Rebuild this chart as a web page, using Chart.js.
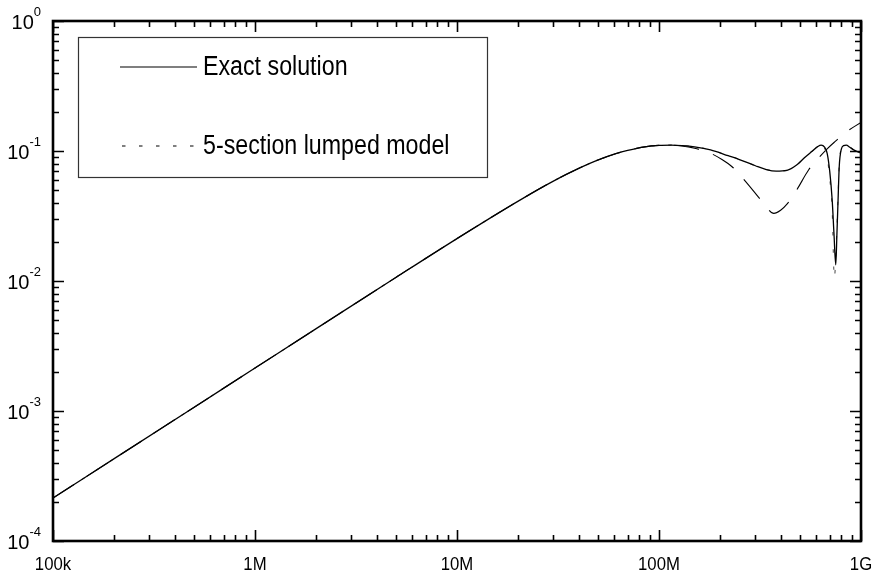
<!DOCTYPE html>
<html>
<head>
<meta charset="utf-8">
<script src="https://cdn.jsdelivr.net/npm/chart.js@4/dist/chart.umd.min.js"></script>
<style>
  html, body { margin: 0; padding: 0; background: #ffffff; }
  #wrap { width: 874px; height: 579px; }
</style>
</head>
<body>
<div id="wrap"><canvas id="c" width="874" height="579"></canvas></div>
<script>
// ---- data (frequency in Hz, magnitude) ----
const exactFreq = [1e5, 2e5, 5e5, 1e6, 2e6, 5e6, 1e7, 2e7, 3e7, 4e7, 5e7, 6e7, 7e7, 8.5e7, 1e8, 1.15e8, 1.3e8, 1.5e8, 1.8e8, 2.2e8, 2.5e8, 3e8, 3.4e8, 3.8e8, 4.3e8, 4.8e8, 5.3e8, 5.7e8, 6.1e8, 6.35e8, 6.6e8, 6.8e8, 7.0e8, 7.2e8, 7.35e8, 7.5e8, 7.6e8, 7.7e8, 7.8e8, 8.0e8, 8.2e8, 8.45e8, 8.8e8, 9.2e8, 1e9];
const exactVal  = [2.14e-4, 4.28e-4, 1.07e-3, 2.14e-3, 4.28e-3, 1.069e-2, 2.12e-2, 4.1e-2, 5.87e-2, 7.34e-2, 8.54e-2, 9.45e-2, 0.101, 0.1076, 0.1105, 0.111, 0.110, 0.1076, 0.102, 0.092, 0.086, 0.077, 0.072, 0.070, 0.071, 0.078, 0.090, 0.099, 0.108, 0.111, 0.107, 0.096, 0.070, 0.042, 0.023, 0.0133, 0.023, 0.042, 0.075, 0.104, 0.110, 0.111, 0.107, 0.102, 0.096];

const lumpedFreq = [1e5, 2e5, 5e5, 1e6, 2e6, 5e6, 1e7, 2e7, 3e7, 4e7, 5e7, 6e7, 7e7, 8.5e7, 1e8, 1.15e8, 1.3e8, 1.5e8, 1.8e8, 2.2e8, 2.5e8, 3e8, 3.4e8, 3.8e8, 4.3e8, 4.8e8, 5.3e8, 5.7e8, 6.1e8, 6.35e8, 6.6e8, 6.8e8, 7.0e8, 7.2e8, 7.38e8, 7.55e8, 7.7e8, 7.8e8, 8.0e8, 8.45e8, 8.8e8, 9.2e8, 1e9];
const lumpedVal  = [2.14e-4, 4.28e-4, 1.07e-3, 2.14e-3, 4.28e-3, 1.069e-2, 2.12e-2, 4.1e-2, 5.87e-2, 7.34e-2, 8.54e-2, 9.45e-2, 0.101, 0.1076, 0.1105, 0.111, 0.110, 0.1076, 0.102, 0.092, 0.086, 0.077, 0.072, 0.070, 0.071, 0.078, 0.090, 0.099, 0.108, 0.111, 0.105, 0.090, 0.062, 0.035, 0.0105, 0.020, 0.045, 0.078, 0.104, 0.110, 0.107, 0.102, 0.096];

const longDashFreq = [1e5, 2e5, 5e5, 1e6, 2e6, 5e6, 1e7, 2e7, 3e7, 4e7, 5e7, 6e7, 7e7, 8.5e7, 1e8, 1.15e8, 1.3e8, 1.5e8, 1.8e8, 2.05e8, 2.3e8, 2.6e8, 3.1e8, 3.4e8, 3.7e8, 4.0e8, 4.3e8, 4.8e8, 5.5e8, 6.15e8, 6.8e8, 7.43e8, 8.5e8, 1e9];
const longDashVal  = [2.14e-4, 4.28e-4, 1.07e-3, 2.14e-3, 4.28e-3, 1.069e-2, 2.12e-2, 4.1e-2, 5.87e-2, 7.34e-2, 8.54e-2, 9.45e-2, 0.101, 0.1076, 0.1105, 0.111, 0.1095, 0.105, 0.096, 0.086, 0.0757, 0.0617, 0.0444, 0.037, 0.0331, 0.035, 0.039, 0.050, 0.0714, 0.088, 0.104, 0.118, 0.141, 0.166];

const seriesNames = ['Exact solution', '5-section lumped model'];

const xTickVals = [1e5, 1e6, 1e7, 1e8, 1e9];
const xTickLabels = ['100k', '1M', '10M', '100M', '1G'];
const yTickVals = [1e-4, 1e-3, 1e-2, 1e-1, 1e0];
const yTickExps = ['-4', '-3', '-2', '-1', '0'];

function pts(fx, vy) { return fx.map((f, i) => ({ x: f, y: vy[i] })); }

const FONT = '"Liberation Sans", Arial, sans-serif';

const framePlugin = {
  id: 'frame',
  afterDatasetsDraw(chart) {
    const ctx = chart.ctx;
    const xs = chart.scales.x, ys = chart.scales.y;
    const a = chart.chartArea;
    ctx.save();
    // minor/major ticks
    ctx.strokeStyle = '#000';
    ctx.lineWidth = 1.6;
    ctx.beginPath();
    for (let d = 5; d <= 9; d++) {
      for (let m = 1; m <= 9; m++) {
        const v = m * Math.pow(10, d);
        if (v > 1e9 * 1.0001) break;
        const px = Math.round(xs.getPixelForValue(v)) + 0.5;
        const len = m === 1 ? 11 : 6;
        ctx.moveTo(px, a.bottom); ctx.lineTo(px, a.bottom - len);
        ctx.moveTo(px, a.top); ctx.lineTo(px, a.top + len);
      }
    }
    for (let d = -4; d <= 0; d++) {
      for (let m = 1; m <= 9; m++) {
        const v = m * Math.pow(10, d);
        if (v > 1.0001) break;
        const py = Math.round(ys.getPixelForValue(v)) + 0.5;
        const len = m === 1 ? 11 : 6;
        ctx.moveTo(a.left, py); ctx.lineTo(a.left + len, py);
        ctx.moveTo(a.right, py); ctx.lineTo(a.right - len, py);
      }
    }
    ctx.stroke();
    // frame
    ctx.lineWidth = 2.6;
    ctx.strokeRect(a.left, a.top, a.right - a.left, a.bottom - a.top);

    // x tick labels
    ctx.fillStyle = '#000';
    ctx.textBaseline = 'alphabetic';
    ctx.font = '18px ' + FONT;
    ctx.textAlign = 'center';
    xTickVals.forEach((v, i) => {
      const px = xs.getPixelForValue(v);
      ctx.save();
      ctx.translate(px, a.bottom + 29);
      ctx.scale(0.93, 1);
      ctx.fillText(xTickLabels[i], 0, 0);
      ctx.restore();
    });
    // y tick labels with superscript exponents
    ctx.textAlign = 'left';
    yTickVals.forEach((v, i) => {
      const py = ys.getPixelForValue(v);
      ctx.font = '13px ' + FONT;
      const ew = ctx.measureText(yTickExps[i]).width;
      ctx.font = '20px ' + FONT;
      const bw = ctx.measureText('10').width;
      const right = a.left - 12;
      ctx.fillText('10', right - ew - bw, py + 8);
      ctx.font = '13px ' + FONT;
      ctx.fillText(yTickExps[i], right - ew, py - 5);
    });

    // legend
    const lx = 78.5, ly = 37.5, lw = 409, lh = 140;
    ctx.fillStyle = '#fff';
    ctx.fillRect(lx, ly, lw, lh);
    ctx.lineWidth = 1.2;
    ctx.strokeStyle = '#333';
    ctx.strokeRect(lx, ly, lw, lh);
    ctx.strokeStyle = '#000';
    ctx.lineWidth = 1.2;
    ctx.setLineDash([]);
    ctx.beginPath(); ctx.moveTo(120, 67); ctx.lineTo(197, 67); ctx.stroke();
    ctx.setLineDash([3.5, 13.5]);
    ctx.beginPath(); ctx.moveTo(122, 146); ctx.lineTo(196, 146); ctx.stroke();
    ctx.setLineDash([]);
    ctx.fillStyle = '#000';
    ctx.font = '27px ' + FONT;
    ctx.textBaseline = 'middle';
    [67, 146].forEach((yy, i) => {
      ctx.save();
      ctx.translate(203, yy);
      ctx.scale(0.86, 1);
      ctx.fillText(seriesNames[i], 0, 1);
      ctx.restore();
    });
    ctx.restore();
  }
};

new Chart(document.getElementById('c'), {
  type: 'scatter',
  data: {
    datasets: [
      { label: seriesNames[0], data: pts(exactFreq, exactVal), showLine: true, borderColor: '#000', borderWidth: 1.3, pointRadius: 0, cubicInterpolationMode: 'monotone', fill: false },
      { label: seriesNames[1], data: pts(lumpedFreq, lumpedVal), showLine: true, borderColor: '#555', borderWidth: 1.1, borderDash: [3.5, 13.5], pointRadius: 0, cubicInterpolationMode: 'monotone', fill: false },
      { label: '', data: pts(longDashFreq, longDashVal), showLine: true, borderColor: '#000', borderWidth: 1.1, borderDash: [25, 15], pointRadius: 0, cubicInterpolationMode: 'monotone', fill: false }
    ]
  },
  options: {
    responsive: false,
    animation: false,
    devicePixelRatio: 1,
    layout: { padding: { left: 53, right: 13, top: 21, bottom: 38 } },
    plugins: { legend: { display: false }, tooltip: { enabled: false } },
    scales: {
      x: { type: 'logarithmic', min: 1e5, max: 1e9, display: false },
      y: { type: 'logarithmic', min: 1e-4, max: 1, display: false }
    }
  },
  plugins: [framePlugin]
});
</script>
</body>
</html>
